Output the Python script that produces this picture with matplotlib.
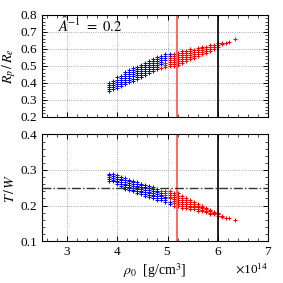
import matplotlib
matplotlib.use('Agg')
import matplotlib.pyplot as plt
from matplotlib.ticker import MultipleLocator, ScalarFormatter

plt.rcParams['font.family'] = ['Liberation Serif', 'DejaVu Serif']
plt.rcParams['mathtext.fontset'] = 'stix'

# central density columns (units of 1e14 g/cm^3)
blue_rho = [3.84, 3.92, 4.00, 4.08, 4.16, 4.24, 4.32, 4.40,
            4.48, 4.56, 4.64, 4.72, 4.80, 4.88, 4.96, 5.04]
blue_rp = [[0.352, 0.364, 0.376, 0.388, 0.400],
           [0.362, 0.374, 0.386, 0.398, 0.410],
           [0.372, 0.384, 0.396, 0.408, 0.420, 0.432],
           [0.382, 0.394, 0.406, 0.418, 0.430, 0.442],
           [0.394, 0.406, 0.418, 0.430, 0.442, 0.454, 0.466],
           [0.404, 0.416, 0.428, 0.440, 0.452, 0.464, 0.476],
           [0.414, 0.426, 0.438, 0.450, 0.462, 0.474, 0.486],
           [0.424, 0.436, 0.448, 0.460, 0.472, 0.484, 0.496],
           [0.436, 0.448, 0.460, 0.472, 0.484, 0.496, 0.508],
           [0.446, 0.458, 0.470, 0.482, 0.494, 0.506, 0.518],
           [0.458, 0.470, 0.482, 0.494, 0.506, 0.518, 0.530],
           [0.470, 0.482, 0.494, 0.506, 0.518, 0.530, 0.542],
           [0.482, 0.494, 0.506, 0.518, 0.530, 0.542, 0.554],
           [0.510, 0.522, 0.534, 0.546, 0.558],
           [0.534, 0.546, 0.558, 0.570],
           [0.560, 0.572]]
blue_tw = [[0.290, 0.285, 0.280, 0.275, 0.270],
           [0.288, 0.283, 0.278, 0.273, 0.268],
           [0.285, 0.280, 0.275, 0.270, 0.265, 0.260],
           [0.281, 0.276, 0.271, 0.266, 0.261, 0.256],
           [0.277, 0.272, 0.267, 0.262, 0.257, 0.252, 0.247],
           [0.273, 0.268, 0.263, 0.258, 0.253, 0.248, 0.243],
           [0.270, 0.265, 0.260, 0.255, 0.250, 0.245, 0.240],
           [0.266, 0.261, 0.256, 0.251, 0.246, 0.241, 0.236],
           [0.262, 0.257, 0.252, 0.247, 0.242, 0.237, 0.232],
           [0.258, 0.253, 0.248, 0.243, 0.238, 0.233, 0.228],
           [0.254, 0.249, 0.244, 0.239, 0.234, 0.229, 0.224],
           [0.251, 0.246, 0.241, 0.236, 0.231, 0.226, 0.221],
           [0.247, 0.242, 0.237, 0.232, 0.227, 0.222, 0.217],
           [0.236, 0.231, 0.226, 0.221, 0.216],
           [0.225, 0.220, 0.215, 0.210],
           [0.211, 0.205]]

red_rho = [4.88, 4.96, 5.04, 5.12, 5.20, 5.28, 5.36, 5.44, 5.52,
           5.60, 5.68, 5.76, 5.84, 5.92, 6.00, 6.08, 6.16, 6.22, 6.34]
red_rp = [[0.488],
          [0.494, 0.506, 0.518],
          [0.498, 0.510, 0.522, 0.534, 0.546],
          [0.500, 0.512, 0.524, 0.536, 0.548, 0.560, 0.572],
          [0.505, 0.517, 0.529, 0.541, 0.553, 0.565, 0.577],
          [0.515, 0.527, 0.539, 0.551, 0.563, 0.575, 0.587],
          [0.528, 0.540, 0.552, 0.564, 0.576, 0.588],
          [0.538, 0.550, 0.562, 0.574, 0.586, 0.598],
          [0.548, 0.560, 0.572, 0.584, 0.596],
          [0.558, 0.570, 0.582, 0.594, 0.606],
          [0.568, 0.580, 0.592, 0.604, 0.614],
          [0.578, 0.590, 0.602, 0.614],
          [0.588, 0.600, 0.612, 0.624],
          [0.600, 0.612, 0.624],
          [0.614, 0.626, 0.638],
          [0.628, 0.638],
          [0.638],
          [0.640],
          [0.657]]
red_tw = [[0.240],
          [0.241, 0.236, 0.231],
          [0.240, 0.235, 0.230, 0.225, 0.220],
          [0.236, 0.230, 0.224, 0.218, 0.212, 0.206, 0.200],
          [0.234, 0.228, 0.222, 0.216, 0.210, 0.204, 0.198],
          [0.228, 0.222, 0.216, 0.210, 0.204, 0.199, 0.194],
          [0.222, 0.216, 0.210, 0.204, 0.199, 0.194],
          [0.216, 0.210, 0.205, 0.200, 0.195, 0.190],
          [0.210, 0.205, 0.200, 0.195, 0.190],
          [0.205, 0.200, 0.195, 0.190, 0.186],
          [0.200, 0.196, 0.192, 0.188, 0.184],
          [0.194, 0.190, 0.186, 0.182],
          [0.188, 0.184, 0.180, 0.176],
          [0.183, 0.179, 0.175],
          [0.180, 0.176, 0.171],
          [0.172, 0.168],
          [0.166],
          [0.165],
          [0.160]]

rho_red_line = 5.18
rho_black_line = 6.0
tw_crit = 0.25


def flatten(rho, vals):
    xs, ys = [], []
    for r, col in zip(rho, vals):
        for v in col:
            xs.append(r * 1e14)
            ys.append(v)
    return xs, ys


fig = plt.figure(figsize=(2.83, 2.83), dpi=100)
ax1 = fig.add_axes([0.148, 0.587, 0.799, 0.360])
ax2 = fig.add_axes([0.148, 0.148, 0.799, 0.377], sharex=ax1)

mk = dict(ls='none', marker='+', ms=3.4, mew=0.75)
for ax, bvals, rvals in [(ax1, blue_rp, red_rp), (ax2, blue_tw, red_tw)]:
    bx, by = flatten(blue_rho, bvals)
    rx, ry = flatten(red_rho, rvals)
    ax.plot(bx, by, color='blue', **mk)
    ax.plot(rx, ry, color='red', **mk)
    ax.axvline(rho_red_line * 1e14, color='#ff5a5a', lw=1.3)
    ax.axvline(rho_black_line * 1e14, color='black', lw=1.2)
    ax.grid(True, which='major', color='0.55', ls=':', lw=0.6)
    ax.tick_params(which='both', direction='in', top=True, right=True,
                   labelsize=9.5)
    ax.tick_params(which='major', length=3.5, width=0.7)
    ax.tick_params(which='minor', length=2, width=0.5)
    ax.xaxis.set_major_locator(MultipleLocator(1e14))
    ax.xaxis.set_minor_locator(MultipleLocator(0.2e14))
    ax.yaxis.set_major_locator(MultipleLocator(0.1))
    ax.yaxis.set_minor_locator(MultipleLocator(0.02))
    for s in ax.spines.values():
        s.set_linewidth(0.8)

ax2.axhline(tw_crit, color='0.2', ls='-.', lw=1.0)

fmt = ScalarFormatter(useMathText=True)
ax2.xaxis.set_major_formatter(fmt)
ax1.set_xlim(2.5e14, 7e14)
ax1.set_ylim(0.2, 0.8)
ax2.set_ylim(0.1, 0.4)
ax1.tick_params(labelbottom=False)
ax1.xaxis.get_offset_text().set_visible(False)
ax2.xaxis.get_offset_text().set_fontsize(9.5)

ax1.set_ylabel(r'$R_p\,/\,R_e$', fontsize=10, labelpad=2)
ax2.set_ylabel(r'$T\,/\,W$', fontsize=10, labelpad=2)
ax2.set_xlabel(r'$\rho_0$  [g/cm$^3$]', fontsize=10, labelpad=2)
ax1.text(0.07, 0.83, r'$\hat{A}^{-1}\ =\ 0.2$', transform=ax1.transAxes,
         fontsize=10.5)

fig.savefig('out.png', dpi=100)
